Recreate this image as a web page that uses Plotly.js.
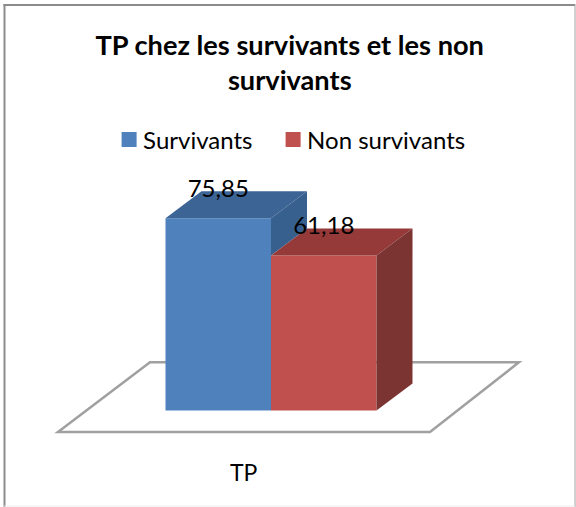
<!DOCTYPE html>
<html><head><meta charset="utf-8">
<script src="https://cdn.plot.ly/plotly-3.0.1.min.js"></script>
<style>html,body{margin:0;padding:0;background:#fff}</style></head>
<body><div id="chart" style="width:576px;height:507px"></div>
<script>
var titleText = 'TP chez les survivants et les non<br>survivants';
var categories = ['TP'];
var seriesNames = ['Survivants', 'Non survivants'];
var seriesValues = [75.85, 61.18];
var frontColors = ['#4F81BD', '#C0504D'];
var topColors = ['#3C6494', '#953A38'];
var sideColors = ['#37608F', '#7B3432'];
var barX = [0, 1];
var legendWidths = [119, 180];
var depthX = 0.341, depthY = 10.65;
var FONT = 'Lato, Carlito, Calibri, sans-serif';

function fmt(v){ return String(v).replace('.', ','); }
var traces = [];
seriesNames.forEach(function(n,i){
  traces.push({type:'bar', name:n, x:[barX[i]], y:[seriesValues[i]], width:1, legendwidth:legendWidths[i],
    marker:{color:frontColors[i], line:{width:0}}, showlegend:true, hoverinfo:'skip'});
});
function poly(xs, ys, color){
  return {type:'scatter', mode:'lines', x:xs, y:ys, fill:'toself', fillcolor:color,
    line:{width:0, color:color}, showlegend:false, hoverinfo:'skip'};
}
var l0=barX[0]-.5, r0=barX[0]+.5, l1=barX[1]-.5, r1=barX[1]+.5, v0=seriesValues[0], v1=seriesValues[1];
traces.push(poly([r0,r0+depthX,r0+depthX,r0,r0],[v0,v0+depthY,v1+depthY,v1,v0],sideColors[0]));
traces.push(poly([l0,l0+depthX,r0+depthX,r0,l0],[v0,v0+depthY,v0+depthY,v0,v0],topColors[0]));
traces.push(poly([l1,l1+depthX,r1+depthX,r1,l1],[v1,v1+depthY,v1+depthY,v1,v1],topColors[1]));
traces.push(poly([r1,r1+depthX,r1+depthX,r1,r1],[v1,v1+depthY,depthY,0,v1],sideColors[1]));
traces.push({type:'scatter', mode:'text', x:barX, y:seriesValues.map(function(v){return v+depthY;}),
  text:seriesValues.map(fmt), textposition:'middle center',
  textfont:{family:FONT,size:24,color:'#000'}, showlegend:false, hoverinfo:'skip', cliponaxis:false});

var W=576,H=507;
var layout = {
  width:W, height:H, margin:{l:0,r:0,t:0,b:0,pad:0}, paper_bgcolor:'#fff', plot_bgcolor:'rgba(0,0,0,0)',
  separators:',.', barmode:'overlay', showlegend:true,
  title:{text:titleText, x:0.503, xanchor:'center', y:0.8925, yanchor:'top', xref:'paper', yref:'paper',
    font:{family:FONT,size:27.2,color:'#000',weight:'bold'}},
  legend:{orientation:'h', x:0.179, y:0.724, xanchor:'left', yanchor:'middle', bgcolor:'rgba(0,0,0,0)',
    font:{family:FONT,size:24,color:'#000'}, traceorder:'normal', itemclick:false, itemdoubleclick:false},
  xaxis:{range:[-218.25/105.5,(576-218.25)/105.5], visible:false, fixedrange:true},
  yaxis:{range:[(410.5-507)/2.535,410.5/2.535], visible:false, fixedrange:true},
  shapes:[
    {type:'path', layer:'below', xref:'x', yref:'y', path:'M-1.519,-8.5 L2.007,-8.5 L2.85,19 L-0.647,19 Z',
      line:{color:'#A0A0A0',width:2.5}, fillcolor:'#fff'},
    {type:'line', xref:'paper', yref:'paper', x0:4.5/W, x1:4.5/W, y0:0, y1:1-4/H, line:{color:'#8C8C8C',width:2}},
    {type:'line', xref:'paper', yref:'paper', x0:3.5/W, x1:575/W, y0:1-5/H, y1:1-5/H, line:{color:'#8C8C8C',width:2}},
    {type:'line', xref:'paper', yref:'paper', x0:575/W, x1:575/W, y0:0, y1:1-4/H, line:{color:'#A0A0A0',width:1}},
    {type:'line', xref:'paper', yref:'paper', x0:4/W, x1:575/W, y0:1/H, y1:1/H, line:{color:'#EDEDED',width:1}}
  ],
  annotations:[{text:categories[0], xref:'paper', yref:'paper', x:244/W, y:1-472/H, xanchor:'center', yanchor:'middle',
    showarrow:false, font:{family:FONT,size:23,color:'#000'}}]
};
Plotly.newPlot('chart', traces, layout, {displayModeBar:false, staticPlot:true}).then(function(gd){
  // Excel-style legend: larger swatch set closer to its label
  gd.querySelectorAll('.legend .legendsymbols').forEach(function(g){ g.setAttribute('transform','translate(6,0)'); });
  gd.querySelectorAll('.legend .legendpoints path').forEach(function(p){
    p.setAttribute('d','M7.5,7.5H-7.5V-7.5H7.5Z');
  });
});
</script></body></html>
